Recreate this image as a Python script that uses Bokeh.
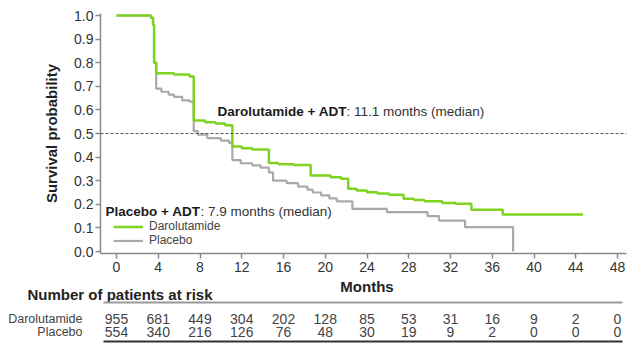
from bokeh.plotting import figure
from bokeh.models import (Range1d, FixedTicker, PrintfTickFormatter, Span, Label,
                          ColumnDataSource, Legend, LegendItem)
from bokeh.embed import file_html
from bokeh.resources import INLINE

# ---------------- data ----------------
daro_t = [0, 3.3, 3.5, 3.6, 3.8, 5.5, 7.0, 7.4, 8.5, 9.5, 10.4, 11.1, 12.0, 13.0, 14.6, 15.5,
          17.0, 18.6, 20.5, 21.5, 22.2, 23.0, 24.0, 25.0, 26.1, 27.5, 28.5, 29.5, 31.2, 32.5,
          34.0, 37.0, 44.7]
daro_s = [1.0, 0.99, 0.96, 0.80, 0.755, 0.75, 0.742, 0.555, 0.548, 0.542, 0.535, 0.445, 0.438,
          0.432, 0.375, 0.37, 0.366, 0.322, 0.315, 0.308, 0.266, 0.258, 0.251, 0.246, 0.24,
          0.223, 0.218, 0.213, 0.205, 0.202, 0.177, 0.157, 0.157]
plac_t = [0, 3.3, 3.5, 3.6, 3.8, 4.3, 5.0, 5.5, 6.3, 7.0, 7.4, 7.8, 8.7, 10.0, 10.8, 11.1, 11.9,
          13.0, 13.8, 14.6, 15.0, 16.3, 17.4, 18.3, 18.8, 19.6, 20.4, 21.1, 22.6, 25.9, 29.8,
          30.9, 33.4, 38.0]
plac_s = [1.0, 0.99, 0.96, 0.80, 0.69, 0.677, 0.665, 0.655, 0.64, 0.635, 0.51, 0.495, 0.48,
          0.47, 0.46, 0.387, 0.374, 0.365, 0.355, 0.335, 0.30, 0.29, 0.275, 0.262, 0.25, 0.238,
          0.225, 0.212, 0.181, 0.167, 0.15, 0.131, 0.103, 0.0]
series_names = ["Darolutamide", "Placebo"]
median_daro = 11.1
median_plac = 7.9
risk_months = [0, 4, 8, 12, 16, 20, 24, 28, 32, 36, 40, 44, 48]
risk_daro = [955, 681, 449, 304, 202, 128, 85, 53, 31, 16, 9, 2, 0]
risk_plac = [554, 340, 216, 126, 76, 48, 30, 19, 9, 2, 0, 0, 0]
x_ticks = risk_months
y_ticks = [0.0, 0.1, 0.2, 0.3, 0.4, 0.5, 0.6, 0.7, 0.8, 0.9, 1.0]

# ---------------- styling ----------------
FONT = "Liberation Sans"
W = 630
X0 = 116              # pixel of month 0
PXM = 501 / 48        # pixels per month
GREEN = "#7ed321"
GREY = "#a9a9a9"

def m(px):
    return (px - X0) / PXM

# ---------------- survival chart ----------------
H1 = 277
p = figure(width=W, height=H1, output_backend="svg", toolbar_location=None,
           x_range=Range1d(m(100), m(626)), y_range=Range1d(-2 / 236, 1 + 2 / 236),
           min_border_left=100, min_border_right=4, min_border_top=13, min_border_bottom=24)
p.outline_line_color = None
p.xgrid.visible = False
p.ygrid.visible = False
p.background_fill_color = "white"
p.border_fill_color = "white"

for ax in (p.xaxis, p.yaxis):
    ax.axis_line_color = "#8a8a8a"
    ax.axis_line_width = 1.5
    ax.major_tick_line_color = "#8a8a8a"
    ax.major_tick_line_width = 1.5
    ax.major_tick_out = 5
    ax.major_tick_in = 0
    ax.minor_tick_out = 0
    ax.minor_tick_in = 0
    ax.major_label_text_font = FONT
    ax.major_label_text_font_size = "14px"
    ax.major_label_text_color = "#333333"

p.xaxis.ticker = FixedTicker(ticks=x_ticks)
p.yaxis.ticker = FixedTicker(ticks=y_ticks)
p.yaxis.formatter = PrintfTickFormatter(format="%.1f")
p.xaxis.major_label_standoff = 3
p.yaxis.major_label_standoff = 2
p.yaxis.axis_label = "Survival probability"
p.yaxis.axis_label_text_font = FONT
p.yaxis.axis_label_text_font_style = "bold"
p.yaxis.axis_label_text_font_size = "15px"
p.yaxis.axis_label_text_color = "#222222"
p.yaxis.axis_label_standoff = 11

r_p = p.step(plac_t, plac_s, mode="after", line_color=GREY, line_width=2.2)
r_d = p.step(daro_t, daro_s, mode="after", line_color=GREEN, line_width=2.5)

p.add_layout(Span(location=0.5, dimension="width", line_color="#555555",
                  line_dash="3 2", line_width=1))

# one legend per entry so the rows can sit as tightly as in the original
for name, rend, ly in ((series_names[0], r_d, 20), (series_names[1], r_p, 6)):
    p.add_layout(Legend(items=[LegendItem(label=name, renderers=[rend])],
                        location=(13, ly), padding=0, margin=0, spacing=0,
                        label_height=11, glyph_height=11, glyph_width=30, label_standoff=6,
                        label_text_font=FONT, label_text_font_size="12px",
                        label_text_color="#444444", background_fill_alpha=0,
                        border_line_alpha=0))

def ann(xm, y, bold, rest, off):
    p.add_layout(Label(x=xm, y=y, text=bold, text_font=FONT, text_font_style="bold",
                       text_font_size="13.5px", text_baseline="middle", text_color="#1a1a1a"))
    p.add_layout(Label(x=xm, y=y, x_offset=off, text=rest, text_font=FONT,
                       text_font_size="13.5px", text_baseline="middle", text_color="#333333"))

ann(m(217), 0.593, "Darolutamide + ADT", ": %.1f months (median)" % median_daro, 129)
ann(m(105), 0.168, "Placebo + ADT", ": %.1f months (median)" % median_plac, 95)

# ---------------- at-risk table (own root, full-width frame) ----------------
H2 = 344 - H1
t = figure(width=W, height=H2, output_backend="svg", toolbar_location=None,
           x_range=Range1d(m(0), m(W)), y_range=Range1d(H2, 0), min_border=0,
           x_axis_location=None, y_axis_location=None)
t.outline_line_color = None
t.xgrid.visible = False
t.ygrid.visible = False
t.background_fill_color = "white"
t.border_fill_color = "white"

Y_MONTHS, Y_HEAD, Y_TOP, Y_D, Y_P, Y_BOT = 9, 17, 25, 41, 54, 64
src = ColumnDataSource(dict(
    x=risk_months + risk_months,
    y=[Y_D] * len(risk_months) + [Y_P] * len(risk_months),
    text=[str(v) for v in risk_daro] + [str(v) for v in risk_plac]))
t.text(x="x", y="y", text="text", source=src, text_align="center", text_baseline="middle",
       text_font={"value": FONT}, text_font_size="14px", text_color="#444444")
t.text(x=[m(82), m(82)], y=[Y_D, Y_P], text=series_names, text_align="right",
       text_baseline="middle", text_font={"value": FONT}, text_font_size="12.5px",
       text_color="#444444")
t.text(x=[m(27)], y=[Y_HEAD], text=["Number of patients at risk"], text_baseline="middle",
       text_font={"value": FONT}, text_font_style="bold", text_font_size="15px",
       text_color="#222222")
t.text(x=[24], y=[Y_MONTHS], text=["Months"], text_align="center", text_baseline="middle",
       text_font={"value": FONT}, text_font_style="bold", text_font_size="15px",
       text_color="#222222")
t.segment(x0=[m(103)], y0=[Y_TOP], x1=[m(622)], y1=[Y_TOP], line_color="#999999", line_width=2)
t.segment(x0=[m(103)], y0=[Y_BOT], x1=[m(622)], y1=[Y_BOT], line_color="#333333", line_width=2)

open("out.html", "w").write(file_html([p, t], INLINE))
